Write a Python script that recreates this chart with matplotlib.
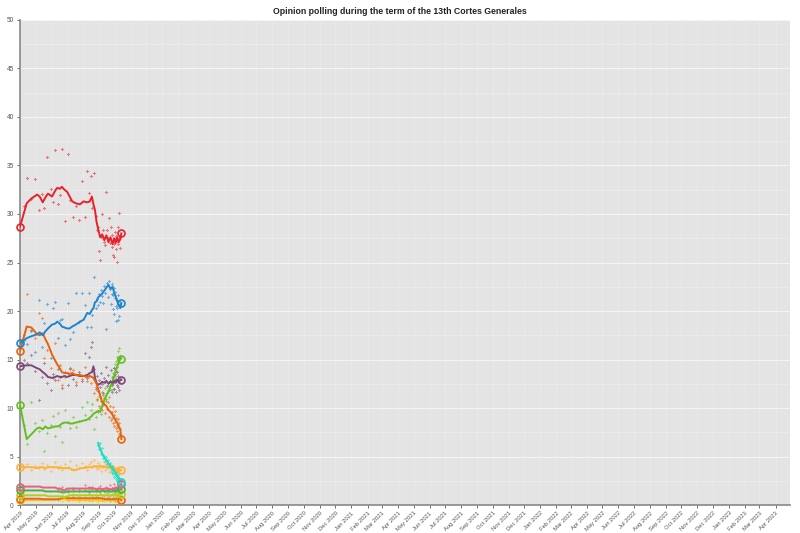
import matplotlib
matplotlib.use("Agg")
import matplotlib.pyplot as plt
import numpy as np
import pandas as pd

plt.rcParams["font.family"] = ["Liberation Sans", "DejaVu Sans"]

TITLE = "Opinion polling during the term of the 13th Cortes Generales"
ELECTION_APR = "2019-04-28"
ELECTION_NOV = "2019-11-10"

PARTIES = ["PSOE", "PP", "Cs", "UP", "Vox", "Más País", "ERC",
           "JxCat", "PNV", "EH Bildu", "Compromís", "CC"]
COLORS = ["#E8212B", "#1D84CE", "#EB6109", "#7B4977", "#63BE21", "#0FDEC4",
          "#FFB232", "#E8607B", "#4AAE4A", "#B5CF18", "#E8642C", "#F2D000"]

# election results (None = did not stand)
RESULT_APR = [28.7, 16.7, 15.9, 14.3, 10.3, None, 3.9, 1.9, 1.5, 1.0, 0.65, 0.5]
RESULT_NOV = [28.0, 20.8, 6.8, 12.9, 15.1, 2.4, 3.6, 2.2, 1.6, 1.1, 0.5, 0.5]

# individual polls (main parties)
POLL_DATES = [
    "2019-05-05", "2019-05-12", "2019-05-20", "2019-05-27", "2019-06-03", "2019-06-10",
    "2019-06-14", "2019-06-20", "2019-06-26", "2019-07-01", "2019-07-05", "2019-07-10",
    "2019-07-15", "2019-07-19", "2019-07-24", "2019-07-29", "2019-08-03", "2019-08-08",
    "2019-08-14", "2019-08-20", "2019-08-26", "2019-08-31", "2019-09-04", "2019-09-08",
    "2019-09-12", "2019-09-15", "2019-09-18", "2019-09-21", "2019-09-23", "2019-09-25",
    "2019-09-27", "2019-09-29", "2019-10-01", "2019-10-03", "2019-10-05", "2019-10-07",
    "2019-10-09", "2019-10-11", "2019-10-13", "2019-10-15", "2019-10-17", "2019-10-19",
    "2019-10-21", "2019-10-22", "2019-10-23", "2019-10-24", "2019-10-25", "2019-10-26",
    "2019-10-27", "2019-10-28", "2019-10-29", "2019-10-30", "2019-10-31", "2019-11-01",
    "2019-11-02", "2019-11-03", "2019-11-04", "2019-11-05", "2019-11-06", "2019-11-08",
]
PSOE_POLLS = [30.8, 33.7, 31.5, 33.6, 30.4, 32.1, 30.6, 35.9, 32.6, 31.2, 36.6, 31.0,
              32.0, 36.7, 29.3, 36.2, 31.4, 29.7, 30.8, 29.4, 33.4, 29.7, 34.4, 32.2,
              33.9, 30.6, 34.2, 29.8, 28.4, 28.7, 26.2, 25.3, 27.6, 30.0, 28.4, 27.1,
              26.8, 32.3, 28.4, 27.5, 29.6, 27.0, 28.7, 26.6, 27.8, 25.8, 27.3, 26.9,
              25.6, 27.4, 28.1, 26.4, 27.7, 25.1, 27.2, 28.7, 26.9, 30.1, 27.5, 26.5]
PP_POLLS = [17.0, 16.6, 17.9, 15.8, 21.1, 16.3, 18.8, 20.7, 15.2, 20.3, 20.9, 17.2,
            19.1, 19.2, 16.5, 20.8, 17.1, 17.8, 21.9, 18.9, 21.9, 20.6, 18.4, 21.9,
            18.4, 19.6, 23.5, 20.3, 21.2, 20.6, 21.8, 20.9, 22.2, 21.5, 20.8, 22.6,
            21.9, 18.1, 22.9, 21.4, 23.1, 22.3, 20.7, 21.8, 22.8, 20.2, 21.6, 22.4,
            19.7, 21.3, 22.0, 20.5, 19.0, 21.1, 20.3, 19.1, 21.7, 20.6, 19.5, 20.9]
CS_POLLS = [17.5, 21.8, 18.0, 17.2, 19.8, 19.3, 15.2, 16.0, 14.1, 13.1, 16.7, 12.9,
            14.4, 12.4, 13.2, 13.6, 14.0, 13.9, 12.7, 13.5, 13.0, 14.2, 12.8, 13.3,
            12.6, 13.8, 11.5, 12.2, 10.9, 11.8, 10.2, 11.1, 10.7, 9.8, 11.3, 10.4,
            9.5, 10.9, 9.9, 10.6, 9.1, 10.2, 8.8, 9.6, 9.0, 10.1, 8.5, 9.3,
            8.1, 9.7, 8.6, 7.9, 9.0, 8.3, 7.6, 8.9, 8.0, 7.3, 8.5, 7.8]
UP_POLLS = [14.9, 14.6, 15.5, 13.8, 10.8, 13.2, 14.6, 12.6, 11.9, 13.5, 12.9, 14.0,
            13.2, 12.1, 13.7, 12.4, 14.1, 13.0, 12.4, 13.7, 12.8, 15.7, 13.1, 15.3,
            16.3, 16.8, 14.0, 12.0, 13.3, 11.8, 12.9, 12.2, 13.6, 12.5, 11.5, 13.1,
            12.7, 14.2, 12.3, 13.4, 11.9, 12.8, 13.9, 12.4, 11.7, 13.2, 12.6, 14.1,
            12.0, 13.5, 12.9, 11.6, 13.0, 12.4, 13.7, 12.2, 13.3, 12.7, 11.9, 13.1]
VOX_POLLS = [8.2, 6.3, 10.6, 8.5, 7.6, 8.8, 5.6, 7.4, 8.3, 9.2, 7.1, 9.5,
             8.0, 6.5, 9.8, 8.6, 7.9, 9.1, 8.0, 8.7, 10.1, 9.3, 10.6, 8.9,
             9.8, 10.4, 7.8, 9.1, 10.8, 9.6, 11.2, 10.0, 9.4, 11.6, 10.3, 11.0,
             12.1, 10.7, 11.5, 12.4, 11.1, 12.8, 11.9, 13.2, 12.5, 12.0, 13.6, 12.9,
             14.1, 13.3, 14.5, 13.8, 14.8, 14.2, 15.3, 14.6, 15.9, 14.9, 16.2, 15.4]
MP_POLLS = [None] * 29 + [
            6.2, 5.8, 6.4, 5.3, 5.9, 4.8, 5.1, 4.5, 4.9, 4.2, 4.6, 3.9,
            4.3, 3.6, 4.0, 3.4, 3.8, 3.2, 3.7, 2.9, 3.3, 3.0, 2.7, 3.4,
            2.8, 2.5, 3.1, 2.4, 2.8, 2.2, 2.6]
ERC_POLLS = [3.9, 4.2, 3.6, 4.0, 3.8, 4.3, 3.7, 4.1, 3.5, 3.9, 4.4, 3.8,
             4.0, 3.6, 4.2, 3.9, 4.5, 3.7, 4.1, 3.8, 4.3, 4.0, 3.6, 4.2,
             4.4, 3.9, 4.6, 4.0, 3.7, 4.3, 3.8, 4.1, 3.5, 4.0, 3.9, 4.4,
             3.6, 4.2, 3.8, 4.0, 3.4, 3.9, 4.1, 3.7, 3.3, 3.8, 4.0, 3.6,
             3.9, 3.5, 3.7, 3.2, 3.8, 3.6, 3.4, 3.9, 3.5, 3.7, 3.3, 3.6]

# individual polls (small parties)
SMALL_POLL_DATES = [
    "2019-07-10", "2019-07-19", "2019-07-29", "2019-08-08", "2019-08-20", "2019-08-31",
    "2019-09-08", "2019-09-15", "2019-09-21", "2019-09-25", "2019-09-29", "2019-10-03",
    "2019-10-07", "2019-10-11", "2019-10-15", "2019-10-19", "2019-10-22", "2019-10-24",
    "2019-10-26", "2019-10-28", "2019-10-30", "2019-11-01", "2019-11-03", "2019-11-05",
    "2019-11-08",
]
JXCAT_POLLS = [1.6, 1.9, 1.5, 1.8, 1.7, 2.1, 1.6, 1.9, 1.5, 1.8, 2.0, 1.7, 1.5,
               1.9, 1.6, 2.1, 1.8, 1.6, 2.2, 1.7, 1.9, 1.5, 2.0, 1.8, 1.6]
PNV_POLLS = [1.4, 1.5, 1.3, 1.6, 1.4, 1.5, 1.3, 1.6, 1.4, 1.5, 1.3, 1.6, 1.4,
             1.5, 1.3, 1.4, 1.6, 1.5, 1.4, 1.3, 1.6, 1.5, 1.4, 1.5, 1.6]
BILDU_POLLS = [0.9, 1.0, 0.8, 1.1, 0.9, 1.0, 1.1, 0.9, 1.0, 0.8, 1.1, 1.0, 0.9,
               1.2, 1.0, 0.9, 1.1, 1.0, 0.8, 1.0, 1.1, 0.9, 1.0, 1.2, 1.0]
COMPROMIS_POLLS = [0.6, 0.7, 0.5, 0.8, 0.6, 0.7, 0.5, 0.6, 0.8, 0.7, 0.6, 0.5, 0.7,
                   0.6, 0.8, 0.5, 0.6, 0.7, 0.6, 0.5, 0.7, 0.6, 0.5, 0.6, 0.7]
CC_POLLS = [0.5, 0.4, 0.6, 0.5, 0.4, 0.5, 0.6, 0.4, 0.5, 0.3, 0.5, 0.6, 0.4,
            0.5, 0.5, 0.4, 0.6, 0.5, 0.4, 0.5, 0.3, 0.5, 0.6, 0.4, 0.5]

# trend lines (running average)
TREND_DATES = [
    "2019-04-28", "2019-05-11", "2019-05-20", "2019-05-31", "2019-06-05", "2019-06-11",
    "2019-06-16", "2019-06-21", "2019-06-29", "2019-07-05", "2019-07-09", "2019-07-14",
    "2019-07-18", "2019-07-23", "2019-07-28", "2019-08-02", "2019-08-07", "2019-08-14",
    "2019-08-22", "2019-08-29", "2019-09-05", "2019-09-10", "2019-09-14", "2019-09-17",
    "2019-09-20", "2019-09-23", "2019-09-26", "2019-09-30", "2019-10-04", "2019-10-08",
    "2019-10-12", "2019-10-16", "2019-10-20", "2019-10-24", "2019-10-27", "2019-10-30",
    "2019-11-02", "2019-11-05", "2019-11-08", "2019-11-10",
]
PSOE_TREND = [28.7, 31.1, 31.6, 32.0, 31.8, 31.2, 31.7, 32.1, 31.8, 32.4, 32.7, 32.6,
              32.8, 32.5, 32.3, 31.8, 31.3, 31.1, 31.0, 31.3, 31.2, 31.3, 31.8, 31.0,
              30.4, 29.2, 28.5, 27.6, 27.9, 27.3, 27.8, 27.1, 27.6, 26.9, 27.5, 27.0,
              27.6, 27.1, 27.4, 28.0]
PP_TREND = [16.7, 17.2, 17.4, 17.6, 17.8, 17.5, 17.9, 18.2, 18.6, 18.7, 18.9, 18.7,
            18.4, 18.3, 18.2, 18.2, 18.4, 18.6, 18.9, 19.1, 19.8, 19.7, 20.1, 20.3,
            20.9, 21.0, 21.4, 21.6, 21.8, 22.1, 22.4, 22.7, 22.3, 22.5, 21.9, 21.5,
            21.0, 20.6, 20.3, 20.8]
CS_TREND = [15.9, 18.4, 18.3, 17.6, 17.5, 17.7, 17.1, 16.6, 15.5, 14.9, 14.5, 14.1,
            13.7, 13.6, 13.6, 13.5, 13.6, 13.4, 13.4, 13.3, 13.2, 13.3, 13.2, 13.1,
            12.8, 12.5, 12.0, 11.3, 10.6, 10.4, 10.2, 9.8, 9.6, 9.3, 9.0, 8.7,
            8.5, 8.1, 7.8, 6.8]
UP_TREND = [14.3, 14.4, 14.4, 14.1, 14.0, 13.7, 13.5, 13.2, 13.1, 13.2, 13.3, 13.2,
            13.2, 13.3, 13.2, 13.3, 13.4, 13.4, 13.3, 13.3, 13.4, 13.6, 13.7, 14.3,
            13.1, 12.6, 12.4, 12.5, 12.7, 12.6, 12.8, 12.5, 12.7, 12.6, 12.8, 12.6,
            12.9, 12.7, 12.9, 12.9]
VOX_TREND = [10.3, 6.8, 7.3, 7.9, 8.0, 7.8, 8.1, 7.9, 8.0, 8.1, 8.1, 8.2,
             8.4, 8.5, 8.5, 8.4, 8.4, 8.5, 8.6, 8.7, 8.8, 9.0, 9.2, 9.4,
             9.5, 9.6, 9.7, 9.6, 10.2, 10.8, 11.3, 11.7, 12.2, 12.8, 13.3, 13.8,
             14.3, 14.7, 15.2, 15.1]
MP_TREND = [None] * 26 + [6.4, 5.8, 5.3, 4.9, 4.6, 4.3, 4.0, 3.8, 3.5, 3.3,
                          3.0, 2.8, 2.6, 2.4]
ERC_TREND = [3.9, 3.9, 3.9, 3.8, 3.9, 3.9, 3.8, 3.9, 3.9, 3.9, 3.9, 3.8,
             3.8, 3.8, 3.8, 3.8, 3.6, 3.6, 3.8, 3.8, 3.9, 3.9, 3.9, 4.0,
             4.0, 3.9, 4.0, 4.0, 3.9, 4.0, 3.9, 3.9, 3.8, 3.8, 3.8, 3.7,
             3.7, 3.7, 3.6, 3.6]
JXCAT_TREND = [1.9, 1.9, 1.9, 1.9, 1.9, 1.8, 1.8, 1.8, 1.8, 1.8, 1.7, 1.7,
               1.6, 1.5, 1.7, 1.7, 1.7, 1.7, 1.7, 1.7, 1.7, 1.8, 1.7, 1.7,
               1.7, 1.6, 1.7, 1.7, 1.6, 1.7, 1.7, 1.7, 1.6, 1.7, 1.7, 1.8,
               1.7, 1.8, 1.8, 2.2]
PNV_TREND = [1.5, 1.5, 1.5, 1.5, 1.5, 1.5, 1.4, 1.4, 1.4, 1.4, 1.4, 1.4,
             1.3, 1.3, 1.4, 1.4, 1.4, 1.4, 1.4, 1.4, 1.4, 1.4, 1.4, 1.4,
             1.4, 1.4, 1.4, 1.4, 1.5, 1.4, 1.4, 1.5, 1.4, 1.4, 1.5, 1.4,
             1.5, 1.5, 1.5, 1.6]
BILDU_TREND = [1.0, 1.0, 1.0, 1.0, 1.0, 1.0, 1.0, 0.9, 0.9, 0.9, 0.9, 0.9,
               0.8, 0.8, 0.9, 1.0, 1.0, 1.0, 1.0, 1.0, 1.0, 1.0, 1.0, 1.0,
               1.0, 1.0, 1.0, 1.0, 1.0, 1.0, 1.0, 1.0, 1.0, 1.0, 1.1, 1.0,
               1.0, 1.0, 1.1, 1.1]
COMPROMIS_TREND = [0.65, 0.65, 0.65, 0.65, 0.65, 0.6, 0.6, 0.6, 0.6, 0.6, 0.6, 0.6,
                   0.7, 0.8, 0.7, 0.7, 0.7, 0.7, 0.7, 0.7, 0.7, 0.7, 0.7, 0.7,
                   0.7, 0.7, 0.7, 0.7, 0.7, 0.6, 0.6, 0.6, 0.6, 0.6, 0.6, 0.6,
                   0.6, 0.6, 0.6, 0.5]
CC_TREND = [0.5, 0.5, 0.5, 0.5, 0.5, 0.5, 0.5, 0.5, 0.5, 0.5, 0.6, 0.6,
            0.7, 0.6, 0.5, 0.5, 0.5, 0.5, 0.5, 0.5, 0.5, 0.5, 0.5, 0.5,
            0.5, 0.5, 0.5, 0.5, 0.5, 0.5, 0.5, 0.5, 0.5, 0.5, 0.5, 0.5,
            0.5, 0.5, 0.5, 0.5]

POLLS = [PSOE_POLLS, PP_POLLS, CS_POLLS, UP_POLLS, VOX_POLLS, MP_POLLS, ERC_POLLS,
         JXCAT_POLLS, PNV_POLLS, BILDU_POLLS, COMPROMIS_POLLS, CC_POLLS]
TRENDS = [PSOE_TREND, PP_TREND, CS_TREND, UP_TREND, VOX_TREND, MP_TREND, ERC_TREND,
          JXCAT_TREND, PNV_TREND, BILDU_TREND, COMPROMIS_TREND, CC_TREND]


def to_arr(vals):
    return np.array([np.nan if v is None else v for v in vals], dtype=float)


poll_x = pd.to_datetime(POLL_DATES)
small_x = pd.to_datetime(SMALL_POLL_DATES)
trend_x = pd.to_datetime(TREND_DATES)
e_apr, e_nov = pd.Timestamp(ELECTION_APR), pd.Timestamp(ELECTION_NOV)

fig = plt.figure(figsize=(8, 5.33), dpi=100)
ax = fig.add_axes([0.025, 0.0525, 0.9625, 0.91])
ax.set_facecolor("#e4e4e4")

# small parties first so the big ones sit on top
for i in reversed(range(len(PARTIES))):
    c = COLORS[i]
    px = poll_x if len(POLLS[i]) == len(POLL_DATES) else small_x
    ax.plot(px, to_arr(POLLS[i]), ls="none", marker="P", ms=2.3, mew=0,
            color=c, alpha=0.55, zorder=3)
    ax.plot(trend_x, to_arr(TRENDS[i]), color=c, lw=1.4, zorder=4)
    for d, v in ((e_apr, RESULT_APR[i]), (e_nov, RESULT_NOV[i])):
        if v is not None:
            ax.plot([d], [v], marker="o", ms=5, mfc="none", mec=c, mew=1.2,
                    zorder=5, clip_on=False)

ax.set_ylim(0, 50)
ax.set_yticks(np.arange(0, 51, 5))
ax.set_yticks(np.arange(2.5, 50, 5), minor=True)
ax.set_xlim(pd.Timestamp("2019-04-28"), pd.Timestamp("2023-05-26"))
ticks = pd.date_range("2019-04-28", "2023-04-28", freq=pd.DateOffset(months=1))
ax.set_xticks(ticks)
ax.set_xticklabels([t.strftime("%b %Y") for t in ticks], rotation=45,
                   ha="right", rotation_mode="anchor")

ax.grid(True, which="major", axis="y", color="#f4f4f4", lw=0.8)
ax.grid(True, which="minor", axis="y", color="#ececec", lw=0.6)
ax.grid(True, which="major", axis="x", color="#ebebeb", lw=0.6)
ax.set_axisbelow(True)

for s in ("top", "right"):
    ax.spines[s].set_visible(False)
for s in ("left", "bottom"):
    ax.spines[s].set_color("#888888")
    ax.spines[s].set_linewidth(1.2)
ax.tick_params(axis="both", which="major", colors="#555555",
               length=2.5, width=0.6, pad=2)
ax.tick_params(axis="y", which="major", labelsize=4.7)
ax.tick_params(axis="x", which="major", labelsize=4.2, pad=1.5)
ax.tick_params(axis="y", which="minor", length=0)

fig.text(0.5, 0.987, TITLE, ha="center", va="top", fontsize=6.3,
         fontweight="bold", color="#222222")

fig.savefig("out.png", dpi=100)
